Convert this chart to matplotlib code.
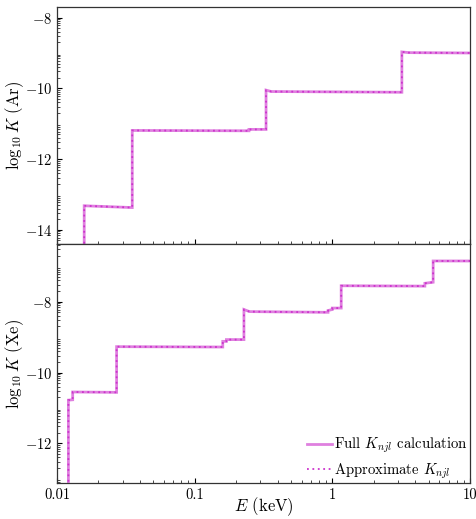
import numpy as np
import matplotlib
matplotlib.use("Agg")
import matplotlib.pyplot as plt
from matplotlib.ticker import FixedLocator, FixedFormatter, NullFormatter, LogLocator

plt.rcParams['font.family'] = 'serif'
plt.rcParams['font.serif'] = ['cmr10']
plt.rcParams['mathtext.fontset'] = 'cm'
plt.rcParams['axes.formatter.use_mathtext'] = True
plt.rcParams['axes.unicode_minus'] = True

# Ar: energies (keV) and log10 K
ar_E = [0.01576, 0.01576, 0.0352, 0.0352, 0.248, 0.248, 0.33, 0.33, 0.36, 3.2, 3.2, 3.6, 10.0]
ar_full = [-15.0, -13.32, -13.37, -11.19, -11.20, -11.16, -11.16, -10.05, -10.09, -10.11, -8.97, -8.99, -9.00]
ar_approx = ar_full

# Xe
xe_E = [0.0121, 0.0121, 0.0130, 0.0130, 0.0271, 0.0271, 0.16, 0.16, 0.17, 0.17, 0.228, 0.228,
        0.25, 0.93, 0.93, 1.0, 1.0, 1.16, 1.16, 4.7, 4.7, 5.4, 5.4, 10.0]
xe_full = [-14.0, -10.78, -10.77, -10.55, -10.56, -9.27, -9.28, -9.12, -9.12, -9.07, -9.07, -8.22,
           -8.28, -8.30, -8.25, -8.22, -8.18, -8.18, -7.55, -7.56, -7.48, -7.45, -6.85, -6.85]
xe_approx = xe_full

xticks = [0.01, 0.1, 1, 10]
xticklabels = ['0.01', '0.1', '1', '10']

solid_color = '#df80df'
dot_color = '#cc33cc'

fig = plt.figure(figsize=(4.77, 5.19), dpi=100)
ax1 = fig.add_axes([0.1195, 0.5299, 0.8658, 0.4566])
ax2 = fig.add_axes([0.1195, 0.0694, 0.8658, 0.4605])

def minor_positions(lo, hi):
    pos = []
    for n in range(int(np.floor(lo)) - 1, int(np.ceil(hi)) + 1):
        for k in range(2, 10):
            pos.append(n + np.log10(k))
    return pos

for ax, E, full, approx, ylim, name in [
        (ax1, ar_E, ar_full, ar_approx, (-14.4, -7.7), 'Ar'),
        (ax2, xe_E, xe_full, xe_approx, (-13.12, -6.37), 'Xe')]:
    l1, = ax.plot(E, full, color=solid_color, lw=2.0, solid_joinstyle='miter',
                  label=r'Full $K_{njl}$ calculation')
    l2, = ax.plot(E, approx, color=dot_color, lw=1.3, ls=(0, (1, 2)),
                  label=r'Approximate $K_{njl}$')
    ax.set_xscale('log')
    ax.set_xlim(0.01, 10)
    ax.set_ylim(*ylim)
    ax.yaxis.set_major_locator(FixedLocator(list(range(-16, -4, 2))))
    ax.yaxis.set_minor_locator(FixedLocator(minor_positions(*ylim)))
    ax.set_ylabel(r'$\log_{10}K$ (%s)' % name, fontsize=12, labelpad=-1)
    ax.tick_params(which='both', direction='in', labelsize=10.5)
    ax.tick_params(which='major', length=3.5, width=0.8)
    ax.tick_params(which='minor', length=2, width=0.5)
    for s in ax.spines.values():
        s.set_color('#333333')
        s.set_linewidth(0.9)

ax1.tick_params(axis='x', which='both', labelbottom=False)
ax2.xaxis.set_major_locator(FixedLocator(xticks))
ax2.xaxis.set_major_formatter(FixedFormatter(xticklabels))
ax2.xaxis.set_minor_locator(LogLocator(base=10, subs=np.arange(2, 10)))
ax2.xaxis.set_minor_formatter(NullFormatter())
ax2.set_xlabel(r'$E$ (keV)', fontsize=12, labelpad=-4.5)
ax2.legend(loc='lower right', frameon=False, fontsize=10.6, handlelength=1.7,
           handletextpad=0.15, borderpad=0.15, borderaxespad=0.0, labelspacing=0.4)

fig.savefig('out.png', dpi=100)
